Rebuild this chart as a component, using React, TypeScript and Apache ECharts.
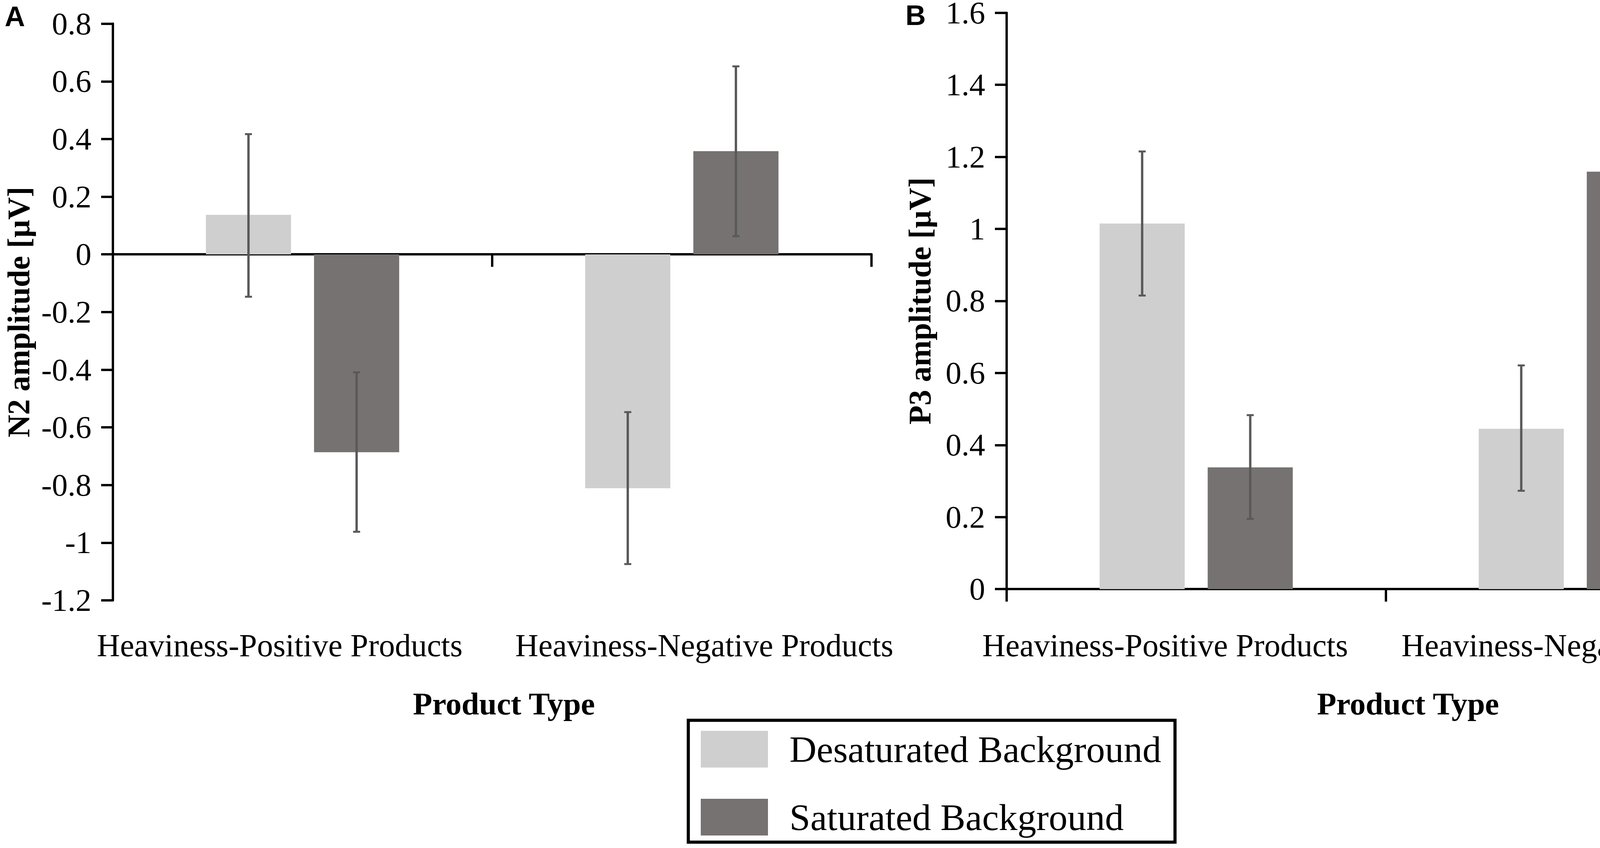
import React, { useEffect, useRef } from "react";
import * as echarts from "echarts";

const categories = ["Heaviness-Positive Products", "Heaviness-Negative Products"];
const seriesNames = ["Desaturated Background", "Saturated Background"];

// Panel A: N2 amplitude
const n2Desat = [0.137, -0.811];
const n2Sat = [-0.686, 0.358];
const n2DesatErr = [[-0.147, 0.417], [-1.074, -0.547]];
const n2SatErr = [[-0.962, -0.409], [0.063, 0.652]];
const n2Min = -1.2;
const n2Max = 0.8;

// Panel B: P3 amplitude
const p3Desat = [1.015, 0.445];
const p3Sat = [0.338, 1.159];
const p3DesatErr = [[0.815, 1.215], [0.273, 0.621]];
const p3SatErr = [[0.195, 0.483], [0.953, 1.367]];
const p3Min = 0;
const p3Max = 1.6;

const tickStep = 0.2;

const LIGHT = "#d0cfd0";
const DARK = "#767271";
const ERR = "#595959";
const SERIF = '"Liberation Serif", "Times New Roman", serif';
const BAR_W = 0.2245;
const BAR_GAP = 0.27;

function errRender(sign: number) {
  return (params: any, api: any) => {
    const cat = api.value(0);
    const lo = api.coord([cat, api.value(1)]);
    const hi = api.coord([cat, api.value(2)]);
    const band = api.size([1, 0])[0];
    const bw = band * BAR_W;
    const x = lo[0] + sign * bw * (1 + BAR_GAP) / 2;
    const c = 9;
    return {
      type: "group",
      children: [
        { type: "line", shape: { x1: x, y1: lo[1], x2: x, y2: hi[1] }, style: { stroke: ERR, lineWidth: 6 } },
        { type: "line", shape: { x1: x - c, y1: hi[1], x2: x + c, y2: hi[1] }, style: { stroke: ERR, lineWidth: 5 } },
        { type: "line", shape: { x1: x - c, y1: lo[1], x2: x + c, y2: lo[1] }, style: { stroke: ERR, lineWidth: 5 } },
      ],
    };
  };
}

const fmt = (v: number) => String(Math.round(v * 10) / 10);

function makeLabel(lp: number, rp: number) {
  return {
    show: true,
    interval: 0,
    fontSize: 82,
    color: "#000",
    fontFamily: SERIF,
    formatter: (v: string, i: number) => (i === 0 ? `{l|${v}}` : `{r|${v}}`),
    rich: {
      l: { fontSize: 82, fontFamily: SERIF, color: "#000", padding: [0, lp, 0, 0], lineHeight: 80 },
      r: { fontSize: 82, fontFamily: SERIF, color: "#000", padding: [0, 0, 0, rp], lineHeight: 80 },
    },
  };
}

export default function App() {
  const ref = useRef<HTMLDivElement>(null);
  useEffect(() => {
    if (!ref.current) return;
    const chart = echarts.init(ref.current, null, { renderer: "svg" });
    const axisLineStyle = { color: "#000", width: 6 };
    const yLabel = { fontSize: 81, color: "#000", margin: 55, formatter: fmt, fontFamily: SERIF, lineHeight: 60 };
    const yName = { fontSize: 80, fontWeight: "bold", color: "#000", fontFamily: SERIF, lineHeight: 70 };
    const xName = { fontSize: 81, fontWeight: "bold", color: "#000", fontFamily: SERIF };
    const option: any = {
      animation: false,
      backgroundColor: "#fff",
      textStyle: { fontFamily: SERIF },
      grid: [
        { left: 289, top: 60.6, width: 1942, height: 1476.5, outerBoundsMode: "none", containLabel: false },
        { left: 2577, top: 32.7, width: 1941, height: 1475.5, outerBoundsMode: "none", containLabel: false },
      ],
      xAxis: [
        {
          gridIndex: 0,
          type: "category",
          data: categories,
          position: "bottom",
          axisLine: { show: true, onZero: true, lineStyle: axisLineStyle },
          axisTick: { show: true, length: 32, lineStyle: axisLineStyle },
          axisLabel: { show: false },
        },
        {
          gridIndex: 0,
          type: "category",
          data: categories,
          position: "bottom",
          axisLine: { show: false, onZero: false },
          axisTick: { show: false },
          axisLabel: { ...makeLabel(117, 115), margin: 75 },
          name: "Product Type",
          nameLocation: "middle",
          nameGap: 224,
          nameTextStyle: { ...xName, padding: [0, 0, 0, 60] },
        },
        {
          gridIndex: 1,
          type: "category",
          data: categories,
          position: "bottom",
          axisLine: { show: true, onZero: true, lineStyle: axisLineStyle },
          axisTick: { show: true, length: 32, lineStyle: axisLineStyle },
          axisLabel: { ...makeLabel(159, 78), margin: 104 },
          name: "Product Type",
          nameLocation: "middle",
          nameGap: 253,
          nameTextStyle: { ...xName, padding: [0, 0, 0, 114] },
        },
      ],
      yAxis: [
        {
          gridIndex: 0,
          type: "value",
          min: n2Min,
          max: n2Max,
          interval: tickStep,
          axisLine: { show: true, onZero: false, lineStyle: axisLineStyle },
          axisTick: { show: true, length: 30, lineStyle: axisLineStyle },
          splitLine: { show: false },
          axisLabel: yLabel,
          name: "N2 amplitude [µV]",
          nameLocation: "middle",
          nameGap: 206,
          nameTextStyle: yName,
        },
        {
          gridIndex: 1,
          type: "value",
          min: p3Min,
          max: p3Max,
          interval: tickStep,
          axisLine: { show: true, onZero: false, lineStyle: axisLineStyle },
          axisTick: { show: true, length: 30, lineStyle: axisLineStyle },
          splitLine: { show: false },
          axisLabel: yLabel,
          name: "P3 amplitude [µV]",
          nameLocation: "middle",
          nameGap: 187,
          nameTextStyle: yName,
        },
      ],
      legend: {
        data: seriesNames,
        orient: "vertical",
        left: 1794,
        top: 1870,
        padding: 0,
        itemWidth: 172,
        itemHeight: 94,
        itemGap: 78,
        icon: "rect",
        textStyle: { fontSize: 96, color: "#000", fontFamily: SERIF, padding: [0, 0, 0, 50], lineHeight: 94 },
      },
      graphic: [
        {
          type: "rect",
          shape: { x: 1762, y: 1844, width: 1246, height: 312 },
          style: { fill: "none", stroke: "#000", lineWidth: 8 },
          z: 100,
        },
        {
          type: "text",
          x: 12,
          y: 6,
          style: { text: "A", font: 'bold 72px "Liberation Sans", Arial, sans-serif', fill: "#000", verticalAlign: "top" },
        },
        {
          type: "text",
          x: 2318,
          y: 3,
          style: { text: "B", font: 'bold 72px "Liberation Sans", Arial, sans-serif', fill: "#000", verticalAlign: "top" },
        },
      ],
      series: [
        { type: "bar", name: seriesNames[0], xAxisIndex: 0, yAxisIndex: 0, data: n2Desat, itemStyle: { color: LIGHT }, barWidth: "22.45%", barGap: "27%" },
        { type: "bar", name: seriesNames[1], xAxisIndex: 0, yAxisIndex: 0, data: n2Sat, itemStyle: { color: DARK }, barWidth: "22.45%", barGap: "27%" },
        { type: "bar", name: seriesNames[0], xAxisIndex: 2, yAxisIndex: 1, data: p3Desat, itemStyle: { color: LIGHT }, barWidth: "22.45%", barGap: "27%" },
        { type: "bar", name: seriesNames[1], xAxisIndex: 2, yAxisIndex: 1, data: p3Sat, itemStyle: { color: DARK }, barWidth: "22.45%", barGap: "27%" },
        { type: "custom", xAxisIndex: 0, yAxisIndex: 0, renderItem: errRender(-1), encode: { x: 0, y: [1, 2] }, data: n2DesatErr.map((e, i) => [i, e[0], e[1]]), z: 10 },
        { type: "custom", xAxisIndex: 0, yAxisIndex: 0, renderItem: errRender(1), encode: { x: 0, y: [1, 2] }, data: n2SatErr.map((e, i) => [i, e[0], e[1]]), z: 10 },
        { type: "custom", xAxisIndex: 2, yAxisIndex: 1, renderItem: errRender(-1), encode: { x: 0, y: [1, 2] }, data: p3DesatErr.map((e, i) => [i, e[0], e[1]]), z: 10 },
        { type: "custom", xAxisIndex: 2, yAxisIndex: 1, renderItem: errRender(1), encode: { x: 0, y: [1, 2] }, data: p3SatErr.map((e, i) => [i, e[0], e[1]]), z: 10 },
      ],
    };
    chart.setOption(option);
    return () => chart.dispose();
  }, []);
  return (
    <div
      ref={ref}
      style={{ position: "absolute", left: 0, top: 0, width: 4562, height: 2171, background: "#fff" }}
    />
  );
}
